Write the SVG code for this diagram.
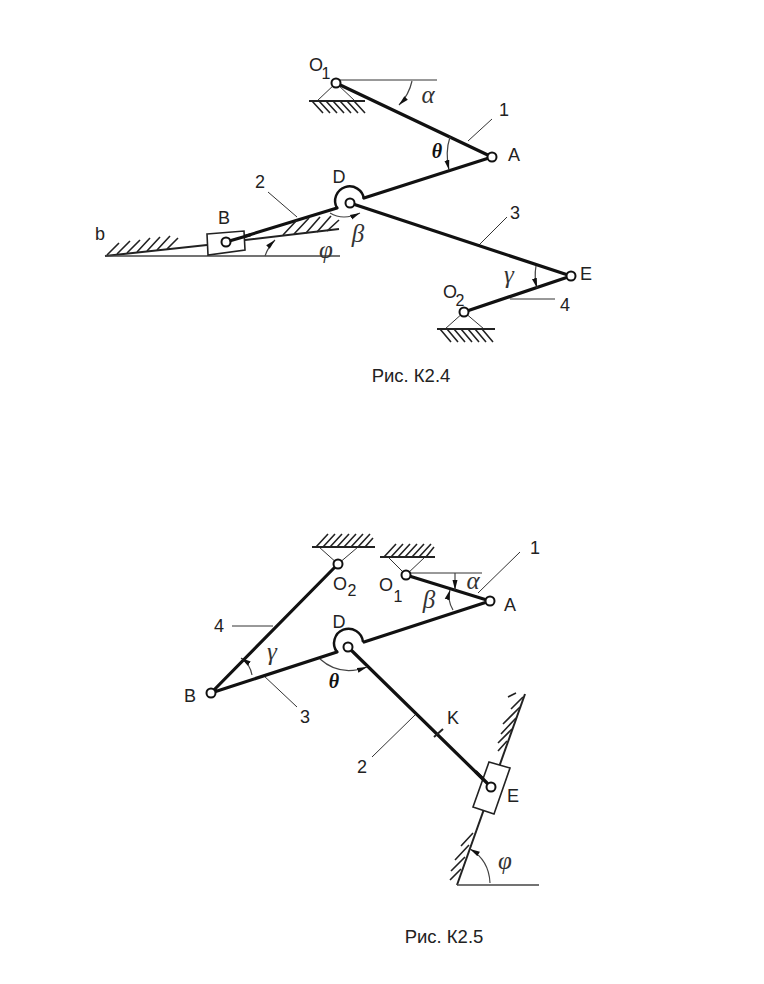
<svg xmlns="http://www.w3.org/2000/svg" width="764" height="984" viewBox="0 0 764 984">
<style>
.bar{fill:none;stroke:#111;stroke-width:3.2;stroke-linecap:round}
.ring{fill:none;stroke:#111;stroke-width:2.5}
.mid{fill:none;stroke:#222;stroke-width:2}
.thin{fill:none;stroke:#333;stroke-width:1}
.line{fill:none;stroke:#444;stroke-width:1.6}
.arc{fill:none;stroke:#444;stroke-width:1.2;marker-end:url(#ah)}
.hatch{fill:none;stroke:#222;stroke-width:1.6}
.base{fill:none;stroke:#222;stroke-width:2.2}
.hinge{fill:#fff;stroke:#111;stroke-width:2}
.slider{fill:#fff;stroke:#222;stroke-width:1.6}
text{font-family:"Liberation Sans",Arial,sans-serif;font-size:18px;fill:#222;text-anchor:middle}
.sub{font-size:16px}
.cap{font-size:18.500px}
.gr{font-family:"Liberation Serif","DejaVu Serif",serif;font-style:italic;font-size:25px;fill:#333}
.th{font-family:"Liberation Serif","DejaVu Serif",serif;font-style:italic;font-weight:bold;font-size:20px;fill:#111}
</style>
<defs>
<marker id="ah" markerUnits="userSpaceOnUse" markerWidth="12" markerHeight="8" refX="10" refY="4" orient="auto"><path d="M0 1.500L10 4L0 6.500Z" fill="#111"/></marker>
</defs>
<rect width="764" height="984" fill="#fff"/>

<g id="connectors">
<path class="thin" d="M336 80H437M468 141L492 119M268 192L297 217M479 245L507 217M510 299H555"/>
<path class="bar" d="M336 83L492 157M492 157L364 198M226 242L337 208M350 203L571 276M571 276L464 312"/>
<path class="mid" d="M105 256L207 245M245 240L339 229"/>
<path class="line" d="M105 256H340"/>
<path class="arc" d="M412 81Q409 95 399 105"/>
<path class="arc" d="M450 137Q445 152 449 170"/>
<path class="arc" d="M265 256Q268 247 275 240"/>
<path class="arc" d="M330 213Q343 221 360 213"/>
<path class="arc" d="M536 266Q534 277 537 288"/>

<path class="thin" d="M406 573H482M478 593L520 552M232 626H273M263 675L297 707M372 757L415 715"/>
<path class="bar" d="M406 575L490 601M490 601L364 642M211 693L337 652M348 647L491 787M338 564L211 693"/>
<path class="mid" d="M525 694L457 885"/>
<path class="mid" d="M434 737L443 729"/>
<path class="line" d="M457 885H539"/>
<path class="arc" d="M455 573V590"/>
<path class="arc" d="M453 610Q447 600 450 590"/>
<path class="arc" d="M252 675Q250 664 241 658"/>
<path class="arc" d="M320 659Q340 677 367 667"/>
<path class="arc" d="M490 883Q489 860 470 849"/>
</g>

<g id="fig-k24">
<g id="O1-a"><path class="thin" d="M336 83L317 101M336 83L355 101"/><path class="base" d="M309 101H365"/><path class="hatch" d="M312 101l11 12M319 101l11 12M326 101l11 12M333 101l11 12M340 101l11 12M347 101l11 12M354 101l11 12"/><circle class="hinge" cx="336" cy="83" r="4.500"/><text x="316" y="71">O</text><text class="sub" x="326" y="79">1</text></g>
<g id="A-a"><circle class="hinge" cx="492" cy="157" r="4.500"/><text x="514" y="161">A</text><text x="504" y="116">1</text></g>
<g id="D-a"><path class="ring" d="M364 199A14.500 14.500 0 1 0 337 208"/><circle class="hinge" cx="350" cy="203" r="4.500"/><text x="339" y="183">D</text></g>
<g id="B-a"><path class="slider" d="M207 234L244 231L245 250L208 255Z"/><circle class="hinge" cx="226" cy="242" r="4.500" stroke-width="1.500"/><path class="bar" d="M231 240.500L250 235"/><text x="224" y="224">B</text></g>
<g id="b-a"><path class="hatch" d="M107 255L119 243M117 254L130 241M127 253L140 240M137 252L150 238M147 251L160 237M157 250L170 236M167 249L178 238"/><text x="100" y="240">b</text></g>
<g id="guide-a"><path class="hatch" d="M283 235L297 220M294 234L309 218M306 233L320 217M317 232L331 216M327 231L339 220"/></g>
<g id="E-a"><circle class="hinge" cx="571" cy="276" r="4.500"/><text x="586" y="280">E</text><text x="515" y="219">3</text><text x="565" y="311">4</text></g>
<g id="O2-a"><path class="thin" d="M464 312L445 329M464 312L484 329"/><path class="base" d="M437 329H495"/><path class="hatch" d="M440 329l11 13M447 329l11 13M454 329l11 13M461 329l11 13M468 329l11 13M475 329l11 13M482 329l11 13"/><circle class="hinge" cx="464" cy="312" r="4.500"/><text x="450" y="298">O</text><text class="sub" x="460" y="306">2</text></g>
<g id="labels-a"><text class="gr" x="428" y="103">α</text><text class="th" x="437" y="158">θ</text><text class="gr" x="358" y="242">β</text><text class="gr" x="326" y="258">φ</text><text class="gr" x="509" y="283">γ</text><text class="cap" x="411" y="382">Рис. К2.4</text><text x="260" y="188">2</text></g>
</g>

<g id="fig-k25">
<g id="O2-b"><path class="thin" d="M338 564L319 547M338 564L358 547"/><path class="base" d="M312 547H375"/><path class="hatch" d="M316 547l12 -13M323 547l12 -13M330 547l12 -13M337 547l12 -13M344 547l12 -13M351 547l12 -13M358 547l12 -13M365 547l8 -9"/><circle class="hinge" cx="338" cy="564" r="4.500"/><text x="340" y="590">O</text><text class="sub" x="352" y="596">2</text></g>
<g id="O1-b"><path class="thin" d="M406 575L388 557M406 575L425 557"/><path class="base" d="M380 557H435"/><path class="hatch" d="M384 557l12 -13M391 557l12 -13M398 557l12 -13M405 557l12 -13M412 557l12 -13M419 557l12 -13M426 557l8 -10"/><circle class="hinge" cx="406" cy="575" r="4.500"/><text x="386" y="591">O</text><text class="sub" x="398" y="602">1</text></g>
<g id="A-b"><circle class="hinge" cx="490" cy="601" r="4.500"/><text x="510" y="611">A</text><text x="535" y="554">1</text></g>
<g id="D-b"><path class="ring" d="M363 642A14.500 14.500 0 1 0 337 652"/><circle class="hinge" cx="348" cy="647" r="4.500"/><text x="339" y="628">D</text></g>
<g id="B-b"><circle class="hinge" cx="211" cy="693" r="4.500"/><text x="190" y="702">B</text></g>
<g id="K-b"><text x="453" y="724">K</text></g>
<g id="E-b"><path class="slider" d="M489 762L510 768L494 814L473 807Z"/><circle class="hinge" cx="491" cy="787" r="4.500" stroke-width="1.500"/><path class="bar" d="M476 772L487 783"/><text x="513" y="802">E</text></g>
<g id="guide-b"><path class="hatch" d="M523 697L511 709M520 707L503 724M516 718L501 734M512 729L498 743M507 741L498 751M508 697L516 693M473 833L461 846M469 845L455 860M465 857L451 871M461 869L450 880"/></g>
<g id="labels-b"><text x="219" y="632">4</text><text x="305" y="723">3</text><text x="362" y="773">2</text><text class="gr" x="473" y="589">α</text><text class="gr" x="429" y="608">β</text><text class="gr" x="272" y="660">γ</text><text class="th" x="334" y="688">θ</text><text class="gr" x="505" y="869">φ</text><text class="cap" x="444" y="943">Рис. К2.5</text></g>
</g>
</svg>
